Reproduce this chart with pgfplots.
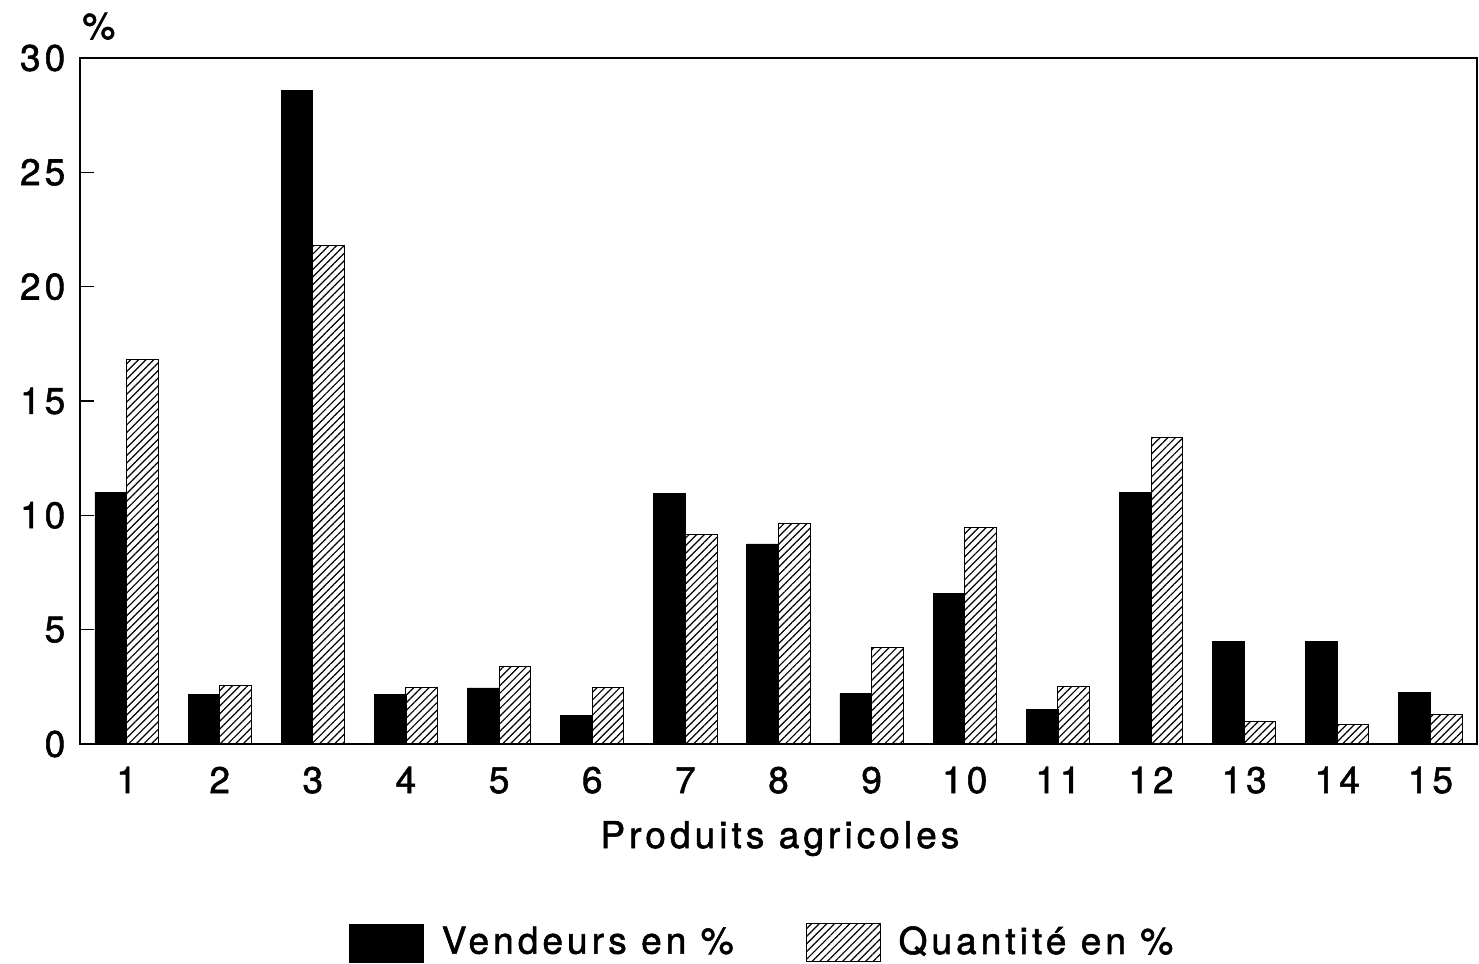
\documentclass[border=0pt]{standalone}
\usepackage{pgfplots}
\pgfplotsset{compat=1.18}
\usepackage{fontspec}
\setmainfont{TeX Gyre Heros}[LetterSpace=11, FakeBold=1.5]
\usetikzlibrary{patterns.meta}
\pgfplotsset{boxlegend/.style={legend image code/.code={\draw[##1] (0pt,-9.5pt) rectangle (37pt,9.5pt);}}}
\begin{document}
\fontsize{18.5}{22}\selectfont
\begin{tikzpicture}
\path[use as bounding box] (-40pt,-110pt) rectangle (699.5pt,372pt);
\begin{axis}[
  at={(0,0)}, anchor=south west,
  scale only axis, width=698.5pt, height=343pt,
  xmin=0.5, xmax=15.5, ymin=0, ymax=30,
  xtick={1,...,15}, ytick={0,5,...,30},
  xtick style={draw=none},
  ytick pos=left, tick align=inside, major tick length=7pt,
  axis line style={line width=0.6pt},
  every tick/.style={line width=0.6pt, black},
  /pgf/number format/assume math mode=true,
  ticklabel style={font=\fontsize{18.5}{22}\selectfont},
  yticklabel style={xshift=-1pt},
  xticklabel style={anchor=base, yshift=-24.5pt},
  xlabel={Produits agricoles},
  xlabel style={at={(axis description cs:0.501,0)}, anchor=base, yshift=-52pt, inner sep=0pt},
  ylabel={\%},
  ylabel style={rotate=-90, at={(axis description cs:0,1)}, anchor=south west, xshift=1pt, yshift=9pt, inner sep=0pt},
  legend style={at={(0.489,-0.29)}, anchor=center, draw=none, legend columns=2,
    /tikz/every odd column/.append style={column sep=7pt},
    /tikz/every even column/.append style={column sep=34pt}, cells={anchor=west},
    font=\fontsize{18.5}{22}\selectfont},
]
\addplot[ybar, bar width=0.34, bar shift=-0.17, fill=black, draw=black, boxlegend]
coordinates {(1,11.0) (2,2.15) (3,28.6) (4,2.15) (5,2.45) (6,1.25) (7,10.95) (8,8.75)
 (9,2.2) (10,6.6) (11,1.5) (12,11.0) (13,4.5) (14,4.5) (15,2.27)};
\addlegendentry{Vendeurs en \%}
\addplot[ybar, bar width=0.34, bar shift=0.17, draw=black, line width=0.5pt,
  pattern={Lines[angle=45,distance=2.7pt,line width=0.6pt]}, boxlegend]
coordinates {(1,16.8) (2,2.55) (3,21.8) (4,2.45) (5,3.37) (6,2.45) (7,9.15) (8,9.65)
 (9,4.2) (10,9.45) (11,2.5) (12,13.4) (13,1.0) (14,0.87) (15,1.3)};
\addlegendentry{Quantité en \%}
\end{axis}
\end{tikzpicture}
\end{document}
